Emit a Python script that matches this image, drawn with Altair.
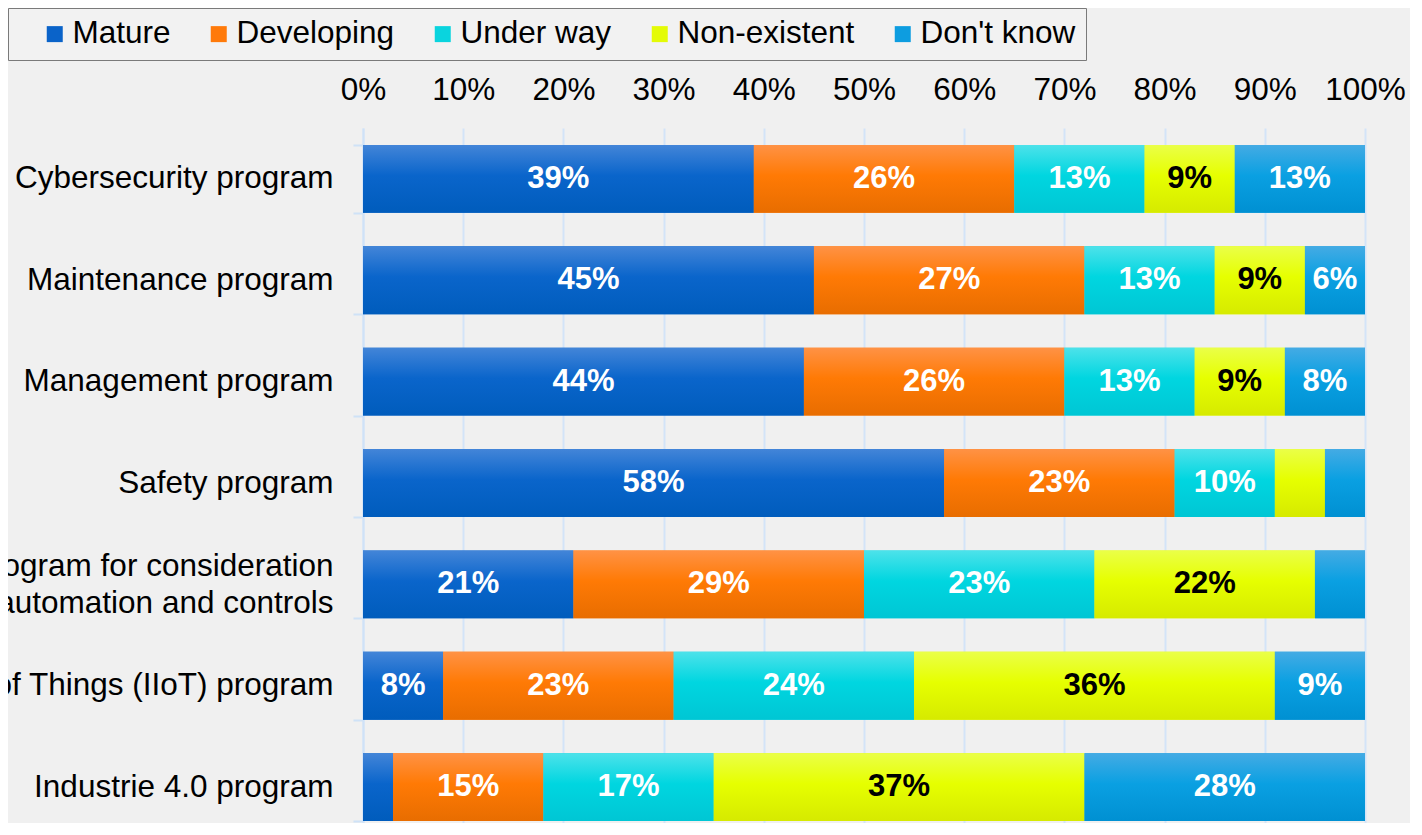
import altair as alt
import pandas as pd

programs = [
    "Cybersecurity program",
    "Maintenance program",
    "Management program",
    "Safety program",
    "Obsolescence program for consideration|of automation and controls",
    "Industrial Internet of Things (IIoT) program",
    "Industrie 4.0 program",
]
statuses = ["Mature", "Developing", "Under way", "Non-existent", "Don't know"]
mature = [39, 45, 44, 58, 21, 8, 3]
developing = [26, 27, 26, 23, 29, 23, 15]
under_way = [13, 13, 13, 10, 23, 24, 17]
non_existent = [9, 9, 9, 5, 22, 36, 37]
dont_know = [13, 6, 8, 4, 5, 9, 28]
tick_values = [0, 10, 20, 30, 40, 50, 60, 70, 80, 90, 100]

colors = ["#0a63c9", "#ff7a0a", "#0ad4de", "#e4fb06", "#0d9de0"]
gradients = [
    ["#4385d8", "#0a65cb", "#005cbc"],
    ["#ff9245", "#ff7a05", "#e86d00"],
    ["#4de2ea", "#00d6e0", "#00c6d4"],
    ["#eaff48", "#e6ff00", "#d6ea00"],
    ["#44abe4", "#0aa0e2", "#0090d2"],
]

series = [mature, developing, under_way, non_existent, dont_know]
rows = []
for si, (st, vals) in enumerate(zip(statuses, series)):
    for pi, (p, v) in enumerate(zip(programs, vals)):
        rows.append({
            "program": p,
            "status": st,
            "k": si,
            "value": v,
            "label": f"{v}%" if v >= 6 else "",
        })
df = pd.DataFrame(rows)

FS = 31.5

base = alt.Chart(df).transform_stack(
    stack="value",
    groupby=["program"],
    sort=[alt.SortField("k", order="ascending")],
    as_=["x0", "x1"],
).transform_calculate(mid="(datum.x0 + datum.x1) / 2")

x_enc = alt.X(
    "x0:Q",
    scale=alt.Scale(domain=[0, 100], nice=False),
    axis=alt.Axis(
        orient="top",
        values=tick_values,
        labelExpr="datum.value + '%'",
        labelOverlap=False,
        labelFlush=False,
        grid=True,
        gridColor="#d3e4f8",
        gridWidth=2,
        domain=False,
        ticks=False,
        labelFontSize=FS,
        labelColor="#000000",
        labelPadding=22,
        title=None,
    ),
)
y_enc = alt.Y(
    "program:N",
    sort=programs,
    scale=alt.Scale(paddingInner=0.33, paddingOuter=0.167),
    axis=alt.Axis(
        labelExpr="split(datum.label, '|')",
        labelFontSize=FS,
        labelColor="#000000",
        labelPadding=20,
        labelLimit=1000,
        labelLineHeight=37,
        labelOffset={
            "condition": {"test": "indexof(datum.label, '|') >= 0", "value": -18},
            "value": 0,
        },
        domainColor="#cfe2f7",
        domainWidth=2,
        tickColor="#cfe2f7",
        tickWidth=2,
        tickSize=10,
        tickBand="extent",
        grid=False,
        title=None,
    ),
)

legend_bars = base.mark_bar().encode(
    x=x_enc,
    x2="x1:Q",
    y=y_enc,
    color=alt.Color(
        "status:N",
        sort=statuses,
        scale=alt.Scale(domain=statuses, range=colors),
        legend=alt.Legend(
            title=None,
            orient="none",
            legendX=-355,
            legendY=-120,
            direction="horizontal",
            columns=5,
            symbolType="square",
            symbolSize=256,
            symbolStrokeWidth=0,
            symbolOffset=21,
            labelFontSize=FS,
            labelColor="#000000",
            labelLimit=400,
            labelOffset=2,
            columnPadding=11,
            padding=10,
            fillColor="#f2f2f2",
            strokeColor="#7a7a7a",
        ),
    ),
)

grad_layers = []
for st, g in zip(statuses, gradients):
    grad_layers.append(
        base.transform_filter(alt.datum.status == st).mark_bar(
            fill={
                "gradient": "linear",
                "x1": 0, "y1": 0, "x2": 0, "y2": 1,
                "stops": [
                    {"offset": 0, "color": g[0]},
                    {"offset": 0.45, "color": g[1]},
                    {"offset": 1, "color": g[2]},
                ],
            }
        ).encode(x="x0:Q", x2="x1:Q", y=alt.Y("program:N", sort=programs))
    )

text = base.mark_text(
    fontSize=31, fontWeight="bold", align="center", baseline="middle"
).encode(
    x="mid:Q",
    y=alt.Y("program:N", sort=programs),
    text="label:N",
    color=alt.condition(
        alt.datum.status == "Non-existent", alt.value("#000000"), alt.value("#ffffff")
    ),
)

chart = alt.layer(legend_bars, *grad_layers, text).properties(
    width=1002,
    height=710,
    background="#f0f0f0",
    autosize=alt.AutoSizeParams(type="none"),
    padding={"left": 355, "top": 120, "right": 45, "bottom": -15},
).configure(font="Liberation Sans").configure_view(stroke=None)

chart.save("out.html", embed_options={"renderer": "svg", "actions": False})
